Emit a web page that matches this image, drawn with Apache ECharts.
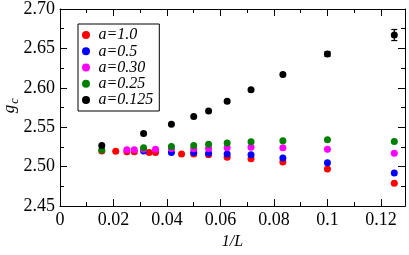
<!DOCTYPE html>
<html><head><meta charset="utf-8">
<script src="https://cdn.jsdelivr.net/npm/echarts@6/dist/echarts.min.js"></script>
<style>html,body{margin:0;padding:0;background:#fff}#c{width:409px;height:255px}</style>
</head><body><div id="c"></div>
<script>
const seriesNames = ['a=1.0', 'a=0.5', 'a=0.30', 'a=0.25', 'a=0.125'];
const seriesColors = ['#ff0000', '#0000ff', '#ff00ff', '#008000', '#000000'];

const xRed = [0.015625, 0.020833, 0.025, 0.027778, 0.033333, 0.035714, 0.045455, 0.05, 0.055556, 0.0625, 0.071429, 0.083333, 0.1, 0.125];
const yRed = [2.520, 2.5197, 2.519, 2.519, 2.518, 2.518, 2.516, 2.516, 2.515, 2.512, 2.510, 2.506, 2.497, 2.479];

const xBlue = [0.03125, 0.041667, 0.05, 0.055556, 0.0625, 0.071429, 0.083333, 0.1, 0.125];
const yBlue = [2.520, 2.518, 2.518, 2.517, 2.516, 2.515, 2.511, 2.505, 2.492];

const xPink = [0.025, 0.027778, 0.03125, 0.035714, 0.041667, 0.05, 0.055556, 0.0625, 0.071429, 0.083333, 0.1, 0.125];
const yPink = [2.5215, 2.5215, 2.522, 2.522, 2.523, 2.5226, 2.523, 2.524, 2.5245, 2.524, 2.522, 2.517];

const xGreen = [0.015625, 0.03125, 0.041667, 0.05, 0.055556, 0.0625, 0.071429, 0.083333, 0.1, 0.125];
const yGreen = [2.521, 2.524, 2.5257, 2.527, 2.5286, 2.530, 2.5317, 2.533, 2.534, 2.532];

const xBlack = [0.015625, 0.03125, 0.041667, 0.05, 0.055556, 0.0625, 0.071429, 0.083333, 0.1, 0.125];
const yBlack = [2.527, 2.542, 2.5537, 2.5636, 2.5705, 2.583, 2.5975, 2.617, 2.643, 2.667];
const errBlack = [0, 0, 0, 0, 0, 0, 0, 0, 0.003, 0.007];

const xTicks = [0, 0.02, 0.04, 0.06, 0.08, 0.1, 0.12];
const yTicks = [2.45, 2.50, 2.55, 2.60, 2.65, 2.70];

const allX = [xRed, xBlue, xPink, xGreen, xBlack];
const allY = [yRed, yBlue, yPink, yGreen, yBlack];

const FONT = 'Liberation Serif';
const chart = echarts.init(document.getElementById('c'), null, {renderer: 'canvas'});

const baseX = {
  type: 'value', min: 0, max: 0.129, gridIndex: 0,
  axisLine: {show: false}, splitLine: {show: false},
  axisLabel: {show: false}
};
function xAx(pos, interval, len, labels) {
  const a = Object.assign({}, baseX, {
    position: pos, interval: interval,
    axisTick: {show: true, inside: true, length: len, lineStyle: {color: '#000', width: 1}},
  });
  if (labels) {
    a.axisLine = {show: true, onZero: false, lineStyle: {color: '#000', width: 1}};
    a.axisLabel = {show: true, showMaxLabel: false, margin: 5, color: '#000', fontFamily: FONT, fontSize: 18,
      formatter: v => xTicks.some(t => Math.abs(t - v) < 1e-9) ? String(parseFloat(v.toFixed(2))) : ''};
    a.name = '1/L'; a.nameLocation = 'middle'; a.nameGap = 22;
    a.nameTextStyle = {fontFamily: FONT, fontStyle: 'italic', fontSize: 16, color: '#000', padding: [0, 0, 0, 0]};
  }
  if (pos === 'top' && len > 5) {
    a.axisLine = {show: true, onZero: false, lineStyle: {color: '#000', width: 1}};
  }
  return a;
}
function yAx(pos, labels) {
  return {
    type: 'value', min: 2.45, max: 2.70, interval: 0.05, position: pos,
    axisLine: {show: true, onZero: false, lineStyle: {color: '#000', width: 1}},
    splitLine: {show: false},
    axisTick: {show: true, inside: true, length: 7, lineStyle: {color: '#000'}},
    minorTick: {show: true, splitNumber: 2, length: 4, lineStyle: {color: '#000'}},
    axisLabel: labels ? {show: true, margin: 5, color: '#000', fontFamily: FONT, fontSize: 18,
      formatter: v => yTicks.some(t => Math.abs(t - v) < 1e-9) ? v.toFixed(2) : ''} : {show: false}
  };
}

const scatterSeries = seriesNames.map((n, i) => ({
  name: n, type: 'scatter', xAxisIndex: 0, yAxisIndex: 0,
  symbol: 'circle', symbolSize: 7,
  itemStyle: {color: seriesColors[i], opacity: 1},
  emphasis: {disabled: true},
  data: allX[i].map((x, j) => [x, allY[i][j]]),
  z: 3 + i
}));

const errSeries = {
  type: 'custom', xAxisIndex: 0, yAxisIndex: 0, z: 10,
  data: xBlack.map((x, j) => [x, yBlack[j], errBlack[j]]).filter(d => d[2] > 0),
  renderItem: function (params, api) {
    const x = api.value(0), y = api.value(1), e = api.value(2);
    const hi = api.coord([x, y + e]), lo = api.coord([x, y - e]);
    const w = 3;
    const st = {stroke: '#000', lineWidth: 1.2};
    return {type: 'group', children: [
      {type: 'line', shape: {x1: hi[0], y1: hi[1], x2: lo[0], y2: lo[1]}, style: st},
      {type: 'line', shape: {x1: hi[0] - w, y1: hi[1], x2: hi[0] + w, y2: hi[1]}, style: st},
      {type: 'line', shape: {x1: lo[0] - w, y1: lo[1], x2: lo[0] + w, y2: lo[1]}, style: st}
    ]};
  }
};

chart.setOption({
  animation: false,
  backgroundColor: '#fff',
  grid: {left: 60, top: 6, right: 4, bottom: 40, containLabel: false},
  xAxis: [
    xAx('bottom', 0.02, 7, true),
    xAx('bottom', 0.01, 4, false),
    xAx('top', 0.02, 7, false),
    xAx('top', 0.01, 4, false)
  ],
  yAxis: [yAx('left', true), yAx('right', false)],
  legend: {
    orient: 'vertical', left: 78, top: 24,
    data: seriesNames, icon: 'circle', itemWidth: 15, itemHeight: 8, itemGap: 0,
    padding: [3, 6, 3, 4],
    borderColor: '#000', borderWidth: 1, backgroundColor: '#fff',
    textStyle: {fontFamily: FONT, fontStyle: 'italic', fontSize: 16, color: '#000', lineHeight: 16.2},
    selectedMode: false
  },
  graphic: [
    {type: 'text', x: 10, y: 109, rotation: Math.PI / 2, z: 100,
      style: {text: 'g', fontFamily: FONT, fontStyle: 'italic', fontSize: 17, fill: '#000', textAlign: 'center', textVerticalAlign: 'middle'}},
    {type: 'text', x: 14.5, y: 101, rotation: Math.PI / 2, z: 100,
      style: {text: 'c', fontFamily: FONT, fontStyle: 'italic', fontSize: 12, fill: '#000', textAlign: 'center', textVerticalAlign: 'middle'}}
  ],
  series: scatterSeries.concat([errSeries])
});
</script></body></html>
